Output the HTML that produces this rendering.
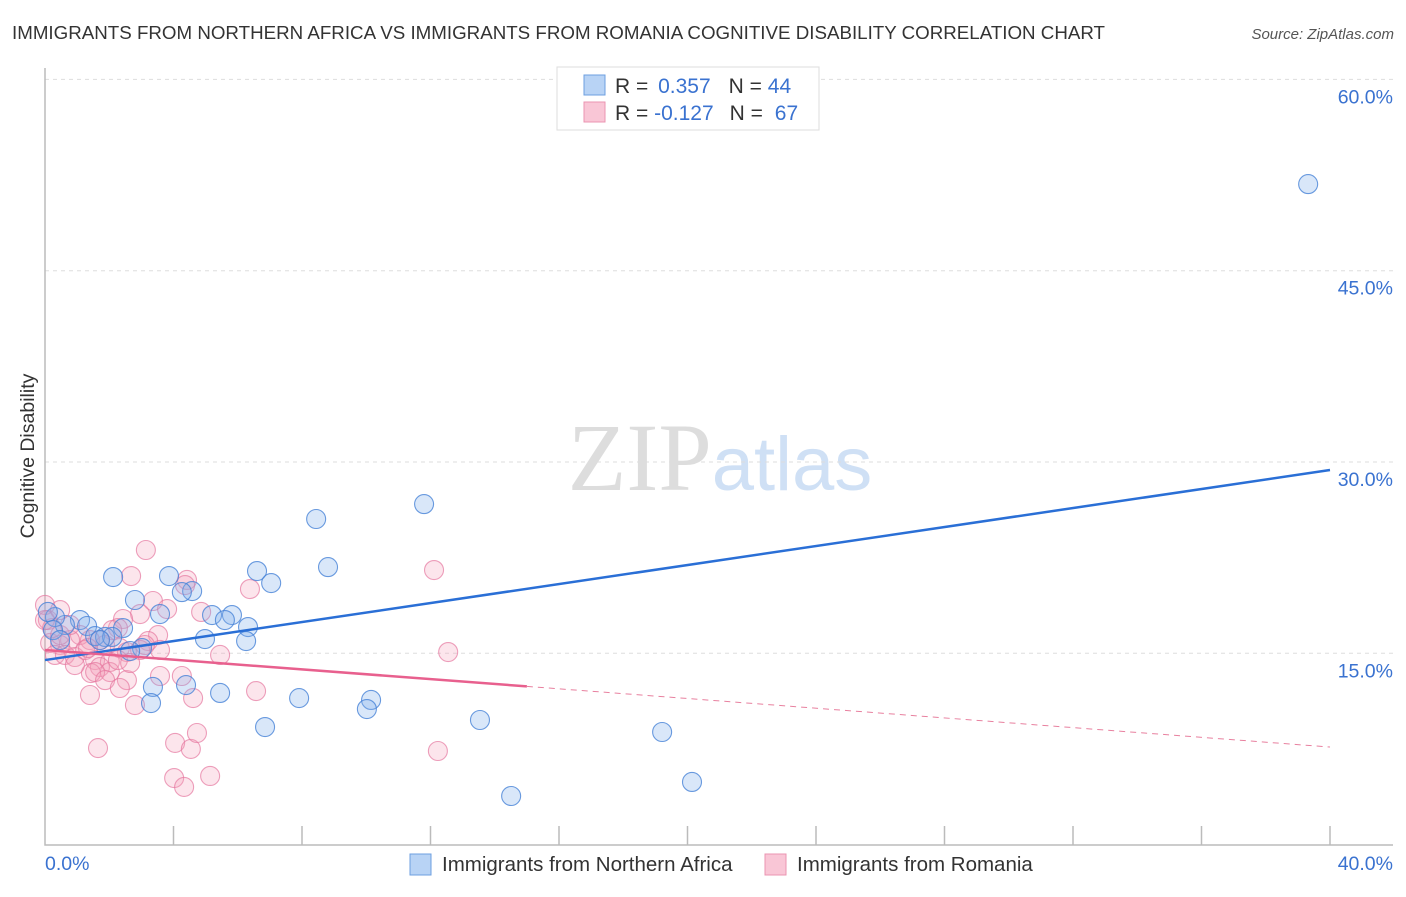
<!DOCTYPE html>
<html><head><meta charset="utf-8"><style>
body{margin:0;background:#fff;width:1406px;height:892px;overflow:hidden;font-family:"Liberation Sans",sans-serif}
</style></head><body>
<svg id="chart" width="1406" height="892" xmlns="http://www.w3.org/2000/svg" font-family="Liberation Sans, sans-serif">
<text x="12" y="39" font-size="18" fill="#333" textLength="1093" lengthAdjust="spacingAndGlyphs">IMMIGRANTS FROM NORTHERN AFRICA VS IMMIGRANTS FROM ROMANIA COGNITIVE DISABILITY CORRELATION CHART</text>
<text x="1394" y="39" font-size="15" fill="#555" font-style="italic" text-anchor="end">Source: ZipAtlas.com</text>
<text x="720" y="490" font-size="96" text-anchor="middle"><tspan fill="#ddd" font-family="Liberation Serif, serif">ZIP</tspan><tspan fill="#cfe0f5" font-size="76">atlas</tspan></text>
<text transform="translate(34,456) rotate(-90)" font-size="19.5" fill="#333" text-anchor="middle">Cognitive Disability</text>
<g id="grid"></g><g id="axes"></g><g id="pink"></g><g id="blue"></g><g id="trends"></g>
<g>
<rect x="557" y="67" width="262" height="63" fill="#fff" stroke="#ddd"/>
<rect x="584" y="75" width="21" height="20" fill="#b8d3f5" stroke="#6d9fe0"/>
<rect x="584" y="102" width="21" height="20" fill="#f9c6d6" stroke="#eb94b1"/>
<text x="615" y="93" font-size="21" fill="#333">R = <tspan fill="#3a72d0" dx="4">0.357</tspan><tspan dx="18" fill="#333">N = </tspan><tspan fill="#3a72d0">44</tspan></text>
<text x="615" y="120" font-size="21" fill="#333">R = <tspan fill="#3a72d0">-0.127</tspan><tspan dx="16" fill="#333">N = </tspan><tspan fill="#3a72d0" dx="6">67</tspan></text>
</g>
<g>
<rect x="410" y="854" width="21" height="21" fill="#b8d3f5" stroke="#6d9fe0"/>
<text x="442" y="871" font-size="20.5" fill="#333">Immigrants from Northern Africa</text>
<rect x="765" y="854" width="21" height="21" fill="#f9c6d6" stroke="#eb94b1"/>
<text x="797" y="871" font-size="20.5" fill="#333">Immigrants from Romania</text>
</g>
</svg>
<script>
const blueX=[39.32,11.80,8.44,8.81,6.60,7.04,2.12,3.86,4.58,4.26,2.80,3.58,5.20,5.82,5.60,6.32,4.98,6.26,2.43,3.02,2.65,1.09,1.31,0.62,0.31,0.09,0.25,1.56,1.87,2.09,3.36,4.39,5.45,7.91,10.15,10.02,3.30,6.85,13.54,19.21,20.14,14.51,0.47,1.71];
const blueY=[51.79,26.70,25.53,21.76,21.45,20.51,20.98,21.06,19.88,19.80,19.18,18.08,18.00,18.00,17.61,17.06,16.12,15.96,16.98,15.41,15.18,17.61,17.14,17.22,17.84,18.24,16.82,16.35,16.28,16.28,12.36,12.51,11.89,11.49,11.34,10.63,11.10,9.22,9.77,8.83,4.91,3.81,16.04,16.04];
const pinkX=[3.14,2.68,4.42,4.36,6.38,3.36,2.96,3.80,2.43,3.52,3.21,2.27,2.09,1.71,1.40,1.09,0.78,0.47,0.16,0.31,0.62,0.93,1.25,1.56,1.87,2.02,2.33,2.55,1.71,1.43,0.93,2.02,1.56,1.87,2.55,2.33,1.40,2.80,3.58,4.26,4.61,4.86,12.11,12.55,6.57,1.65,4.05,4.54,4.73,4.02,4.33,5.14,12.23,0.09,0.0,0.22,0.47,0.78,1.34,2.96,3.58,2.27,2.65,3.11,0.0,0.47,5.45];
const pinkY=[23.10,21.06,20.75,20.35,20.04,19.10,18.08,18.47,17.69,16.43,15.96,16.98,16.82,16.04,16.04,16.43,16.04,15.65,15.81,14.87,14.87,14.71,15.26,14.47,15.65,14.32,15.41,15.10,13.92,13.45,14.08,13.53,13.53,12.90,12.90,12.28,11.73,10.94,13.22,13.22,11.49,18.24,21.53,15.10,12.04,7.57,7.97,7.50,8.75,5.22,4.52,5.38,7.34,17.61,18.79,16.98,16.43,17.22,15.41,15.26,15.26,14.47,14.24,15.65,17.61,18.39,14.87];
const yTicks=[15,30,45,60];
const yTickLabels=["15.0%","30.0%","45.0%","60.0%"];
const xTicks=[0,4,8,12,16,20,24,28,32,36,40];
const blueTrend=[14.47,29.37];
const pinkTrend=[15.26,7.65];
const pinkSolidEnd=15.0;
const NS="http://www.w3.org/2000/svg";
const X=v=>45+v/40*1285, Y=v=>844.6-v/15*191.3;
function mk(t,a,p){const e=document.createElementNS(NS,t);for(const k in a)e.setAttribute(k,a[k]);document.getElementById(p).appendChild(e);return e;}
yTicks.forEach((t,i)=>{
 const l=mk('line',{x1:45,x2:1393,y1:Y(t),y2:Y(t),stroke:'#ddd','stroke-dasharray':'4,4'},'grid');
 
 
 const tx=mk('text',{x:1393,y:Y(t)+24,'font-size':19.5,fill:'#3a72d0','text-anchor':'end'},'grid');
 tx.textContent=yTickLabels[i];
 
 
});
const ax=mk('path',{d:'M45,68V845H1393',fill:'none',stroke:'#bbb','stroke-width':1.5},'axes');


xTicks.forEach(t=>{if(t===0)return;
 const l=mk('line',{x1:X(t),x2:X(t),y1:826,y2:845,stroke:'#bbb','stroke-width':1.5},'axes');
 
 
});
[[0,"0.0%",'start',45],[40,"40.0%",'end',1393]].forEach(([v,s,a,px])=>{
 const t=mk('text',{x:px,y:870,'font-size':19.5,fill:'#3a72d0','text-anchor':a},'axes');t.textContent=s;
 
 
});
function pts(xs,ys,g,fill,stroke,name){xs.forEach((x,i)=>{
 const c=mk('circle',{cx:X(x),cy:Y(ys[i]),r:9.5,fill:fill,stroke:stroke,'stroke-width':1.1},g);
 
 
});}
pts(pinkX,pinkY,'pink','rgba(244,160,188,0.28)','rgba(230,120,160,0.7)','romania-point');
pts(blueX,blueY,'blue','rgba(130,175,235,0.3)','rgba(70,130,215,0.8)','northern-africa-point');
const bt=mk('line',{x1:X(0),y1:Y(blueTrend[0]),x2:X(40),y2:Y(blueTrend[1]),stroke:'#2a6fd6','stroke-width':2.5},'trends');


const py=x=>pinkTrend[0]+(pinkTrend[1]-pinkTrend[0])*x/40;
const ps=mk('line',{x1:X(0),y1:Y(py(0)),x2:X(pinkSolidEnd),y2:Y(py(pinkSolidEnd)),stroke:'#e8608e','stroke-width':2.5},'trends');


const pd=mk('line',{x1:X(pinkSolidEnd),y1:Y(py(pinkSolidEnd)),x2:X(40),y2:Y(py(40)),stroke:'#e8809f','stroke-width':1,'stroke-dasharray':'6,5'},'trends');


</script>
</body></html>
